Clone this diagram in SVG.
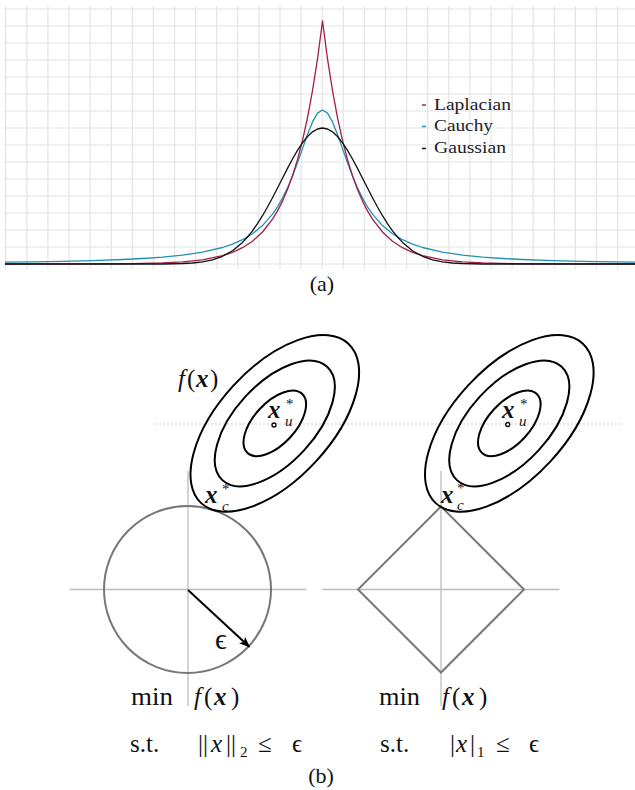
<svg xmlns="http://www.w3.org/2000/svg" width="635" height="790" viewBox="0 0 635 790">
<defs>
<style>
.grid{stroke:#e4e4e4;stroke-width:1.2;fill:none}
.curve{fill:none;stroke-width:1.3;stroke-linejoin:round}
.lap{stroke:#a01f4c}
.cau{stroke:#2191b1}
.gau{stroke:#111}
.leg{font-family:"Liberation Serif","Times New Roman",serif;font-size:16px;fill:#222}
.t{font-family:"Liberation Serif","Times New Roman",serif;font-size:25px;fill:#111}
.ts{font-family:"Liberation Serif","Times New Roman",serif;font-size:15px;fill:#111}
.bi{font-weight:bold;font-style:italic}
.it{font-style:italic}
.axis{stroke:#bdbdbd;stroke-width:1.3;fill:none}
.shape{stroke:#777;stroke-width:2;fill:none}
.ell{stroke:#000;stroke-width:2;fill:none}
</style>
<marker id="arr" viewBox="0 0 10 10" refX="9" refY="5" markerWidth="11" markerHeight="11" markerUnits="userSpaceOnUse" orient="auto">
<path d="M0,1 L10,5 L0,9 L2.5,5 Z" fill="#000"/>
</marker>
</defs>

<g id="chart-a">
<path class="grid" d="M4 9H635M4 26H635M4 43H635M4 60H635M4 77H635M4 94H635M4 111H635M4 128H635M4 145H635M4 162H635M4 179H635M4 196H635M4 213H635M4 230H635M4 247H635M4 264H635"/>
<path class="grid" d="M5.7 6V269M26.8 6V269M47.9 6V269M69 6V269M90.1 6V269M111.2 6V269M132.3 6V269M153.4 6V269M174.5 6V269M195.6 6V269M216.7 6V269M237.8 6V269M258.9 6V269M280 6V269M301.1 6V269M322.2 6V269M343.3 6V269M364.4 6V269M385.5 6V269M406.6 6V269M427.7 6V269M448.8 6V269M469.9 6V269M491 6V269M512.1 6V269M533.2 6V269M554.3 6V269M575.4 6V269M596.5 6V269M617.6 6V269"/>
<polyline class="curve cau" points="5,262.2 32.5,261.8 62.5,261.3 92.5,260.6 122.5,259.5 142.5,258.5 162.5,257.1 182.5,255.1 202.5,252.2 222.5,247.5 232.5,244.2 242.5,239.7 252.5,233.8 262.5,225.6 272.5,214.1 277.5,206.8 282.5,198.1 287.5,187.9 292.5,176.1 297.5,162.8 302.5,148.6 307.5,134.4 312.5,121.9 317.5,113.15 322.5,110 327.5,113.15 332.5,121.9 337.5,134.4 342.5,148.6 347.5,162.8 352.5,176.1 357.5,187.9 362.5,198.1 367.5,206.8 372.5,214.1 382.5,225.6 392.5,233.8 402.5,239.7 412.5,244.2 422.5,247.5 442.5,252.2 462.5,255.1 482.5,257.1 502.5,258.5 522.5,259.5 552.5,260.6 582.5,261.3 612.5,261.8 635,262.1"/>
<polyline class="curve lap" points="5,264 92.5,263.9 132.5,263.6 162.5,262.9 182.5,261.9 202.5,259.8 222.5,255.7 232.5,252.4 242.5,247.7 252.5,241.2 262.5,232 272.5,219.1 277.5,210.9 282.5,201.1 287.5,189.5 292.5,175.8 297.5,159.6 302.5,140.4 307.5,117.6 312.5,90.7 317.5,58.8 322.5,21 327.5,58.8 332.5,90.7 337.5,117.6 342.5,140.4 347.5,159.6 352.5,175.8 357.5,189.5 362.5,201.1 367.5,210.9 372.5,219.1 382.5,232 392.5,241.2 402.5,247.7 412.5,252.4 422.5,255.7 442.5,259.8 462.5,261.9 482.5,262.9 512.5,263.6 552.5,263.9 635,264"/>
<polyline class="curve gau" points="5,264 162.5,264 182.5,263.5 192.5,263 202.5,261.8 212.5,259.8 222.5,256.3 232.5,250.8 242.5,242.4 247.5,237 252.5,230.8 257.5,223.6 262.5,215.7 267.5,207 272.5,197.7 277.5,188 282.5,178.2 287.5,168.4 292.5,159 297.5,150.4 302.5,142.8 307.5,136.5 312.5,131.85 317.5,129 322.5,128 327.5,129 332.5,131.85 337.5,136.5 342.5,142.8 347.5,150.4 352.5,159 357.5,168.4 362.5,178.2 367.5,188 372.5,197.7 377.5,207 382.5,215.7 387.5,223.6 392.5,230.8 397.5,237 402.5,242.4 412.5,250.8 422.5,256.3 432.5,259.8 442.5,261.8 452.5,263 462.5,263.5 482.5,264 635,264"/>
<g id="legend">
<path d="M422 105H426" stroke="#a01f4c" stroke-width="1.5"/>
<path d="M422 126.5H426" stroke="#2191b1" stroke-width="1.5"/>
<path d="M422 148.5H426" stroke="#111" stroke-width="1.5"/>
<text class="leg" x="434" y="109.5" textLength="77" lengthAdjust="spacingAndGlyphs">Laplacian</text>
<text class="leg" x="434" y="131" textLength="59" lengthAdjust="spacingAndGlyphs">Cauchy</text>
<text class="leg" x="434" y="153" textLength="72" lengthAdjust="spacingAndGlyphs">Gaussian</text>
</g>
</g>
<text id="label-a" class="t" x="322" y="291" text-anchor="middle" style="font-size:22px">(a)</text>

<line id="guide" x1="155" y1="424" x2="621" y2="424" stroke="#cfcfcf" stroke-width="1" stroke-dasharray="2,2"/>

<g id="l2-plot">
<path class="axis" d="M69.5 589.5H306.5M188 471V706"/>
<circle class="shape" cx="187.5" cy="589.5" r="83.5"/>
</g>

<g id="l1-plot">
<path class="axis" d="M322.5 589.5H559.5M441 471V706"/>
<path class="shape" d="M441 506.5L524 589.5L441 672.5L358 589.5Z"/>
</g>

<g id="ellipses-left">
<g transform="translate(274.8,423.4) rotate(-47.3)">
<ellipse class="ell" rx="108.5" ry="56"/>
<ellipse class="ell" rx="77.2" ry="39.8"/>
<ellipse class="ell" rx="40.2" ry="20.8"/>
</g>
<circle cx="274" cy="425" r="2" fill="#fff" stroke="#000" stroke-width="1.3"/>
</g>

<g id="ellipses-right">
<g transform="translate(509.3,423.4) rotate(-47.3)">
<ellipse class="ell" rx="108.5" ry="56"/>
<ellipse class="ell" rx="77.2" ry="39.8"/>
<ellipse class="ell" rx="40.2" ry="20.8"/>
</g>
<circle cx="507.8" cy="424.5" r="2" fill="#fff" stroke="#000" stroke-width="1.3"/>
</g>

<g id="connectors">
<line x1="188" y1="590" x2="249.3" y2="646.7" stroke="#000" stroke-width="2" marker-end="url(#arr)"/>
</g>

<g id="labels">
<text class="t" y="387"><tspan class="it" x="178">f</tspan><tspan x="187">(</tspan><tspan class="bi" x="196">x</tspan><tspan x="210">)</tspan></text>
<text class="t bi" x="268" y="418">x</text>
<text class="ts" x="286" y="409">*</text>
<text class="ts it" x="285" y="426">u</text>
<text class="t bi" x="502" y="418">x</text>
<text class="ts" x="520" y="409">*</text>
<text class="ts it" x="519" y="426">u</text>
<text class="t bi" x="205" y="503">x</text>
<text class="ts" x="222" y="494">*</text>
<text class="ts it" x="222" y="511">c</text>
<text class="t bi" x="441" y="503">x</text>
<text class="ts" x="457" y="493">*</text>
<text class="ts it" x="457" y="510">c</text>
<text class="t" x="215" y="649" style="font-size:29px">ϵ</text>
</g>

<g id="problem-l2">
<text class="t" x="131" y="705" textLength="42" lengthAdjust="spacingAndGlyphs">min</text>
<text class="t" y="705"><tspan class="it" x="194">f</tspan><tspan x="204">(</tspan><tspan class="bi" x="214">x</tspan><tspan x="231">)</tspan></text>
<text class="t" x="130" y="752">s.t.</text>
<text class="t" y="752"><tspan x="198">||</tspan><tspan class="it" x="211">x</tspan><tspan x="226">||</tspan></text>
<text class="ts" x="240" y="757">2</text>
<text class="t" x="258" y="752">≤</text>
<text class="t" x="292" y="752">ϵ</text>
</g>

<g id="problem-l1">
<text class="t" x="379" y="705" textLength="41" lengthAdjust="spacingAndGlyphs">min</text>
<text class="t" y="705"><tspan class="it" x="442">f</tspan><tspan x="452">(</tspan><tspan class="bi" x="462">x</tspan><tspan x="479">)</tspan></text>
<text class="t" x="380" y="752">s.t.</text>
<text class="t" y="752"><tspan x="450">|</tspan><tspan class="it" x="456">x</tspan><tspan x="470">|</tspan></text>
<text class="ts" x="477" y="757">1</text>
<text class="t" x="496" y="752">≤</text>
<text class="t" x="529" y="752">ϵ</text>
</g>

<text id="label-b" class="t" x="321" y="783" text-anchor="middle" style="font-size:22px">(b)</text>
</svg>
